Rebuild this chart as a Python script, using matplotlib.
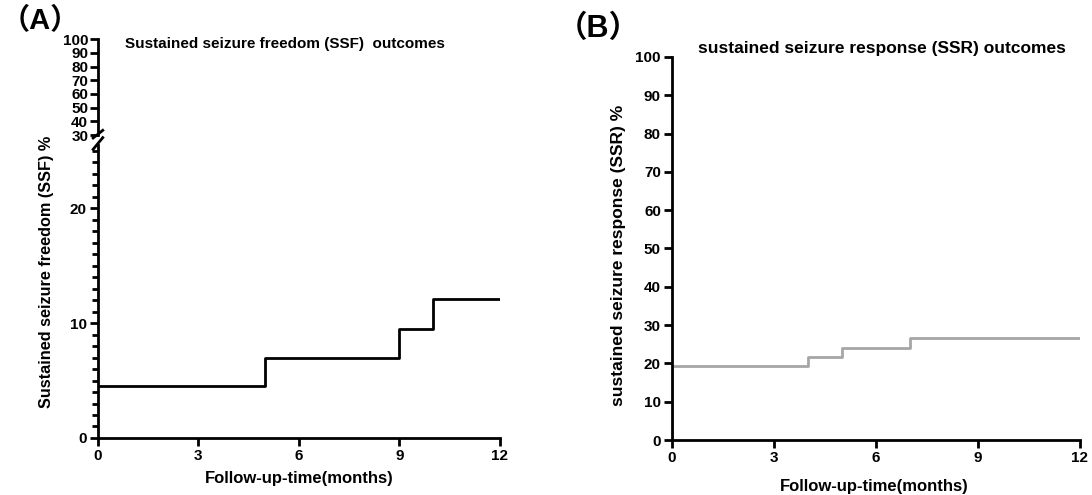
import numpy as np
import matplotlib
matplotlib.use("Agg")
import matplotlib.pyplot as plt

plt.rcParams['font.family'] = ['Liberation Sans', 'Noto Sans CJK SC', 'DejaVu Sans']
plt.rcParams['font.weight'] = 'bold'

# data
months_a = [0, 5, 9, 10, 12]
ssf = [4.5, 7.0, 9.5, 12.1, 12.1]
months_b = [0, 4, 5, 7, 12]
ssr = [19.2, 21.6, 24.0, 26.6, 26.6]
xticks = [0, 3, 6, 9, 12]

fig = plt.figure(figsize=(10.92, 4.95), dpi=100)

def style(ax, size=11):
    for s in ['top', 'right']:
        ax.spines[s].set_visible(False)
    for s in ['left', 'bottom']:
        ax.spines[s].set_linewidth(2)
    ax.tick_params(which='major', length=6, width=2, labelsize=size, pad=2)
    ax.tick_params(which='minor', length=4, width=2)
    for t in ax.get_xticklabels() + ax.get_yticklabels():
        t.set_fontweight('bold')

# ---- panel A, broken y axis
ax_lo = fig.add_axes([0.0897, 0.1152, 0.368, 0.592])
ax_hi = fig.add_axes([0.0897, 0.727, 0.368, 0.194])

ax_lo.step(months_a, ssf, where='post', color='black', lw=2)
ax_lo.set_xlim(0, 12)
ax_lo.set_ylim(0, 25.5)
ax_lo.set_xticks(xticks)
ax_lo.set_yticks([0, 10, 20])
ax_lo.set_yticks(np.arange(0, 26, 1), minor=True)
style(ax_lo)
ax_lo.tick_params(axis='x', which='minor', length=0)

ax_hi.set_xlim(0, 12)
ax_hi.set_ylim(30, 100)
ax_hi.set_yticks(np.arange(30, 101, 10))
ax_hi.set_xticks([])
style(ax_hi)
ax_hi.spines['bottom'].set_visible(False)
ax_hi.tick_params(axis='y', pad=1)

# break marks
kw = dict(color='black', lw=2, clip_on=False)
ax_lo.plot([-0.012, 0.012], [0.985, 1.025], transform=ax_lo.transAxes, **kw)
ax_hi.plot([-0.012, 0.012], [-0.03, 0.05], transform=ax_hi.transAxes, **kw)

fig.text(47 / 1092, (495 - 272) / 495, 'Sustained seizure freedom (SSF) %',
         rotation=90, ha='center', va='center', fontsize=11.7, fontweight='bold')
fig.text(299 / 1092, (495 - 479) / 495, 'Follow-up-time(months)',
         ha='center', va='center', fontsize=12, fontweight='bold')
fig.text(125 / 1092, (495 - 44) / 495, 'Sustained seizure freedom (SSF)  outcomes',
         ha='left', va='center', fontsize=11, fontweight='bold')
fig.text(1 / 1092, (495 - 21) / 495, '（A）', ha='left', va='center',
         fontsize=21, fontweight='bold')

# ---- panel B
ax_b = fig.add_axes([0.6154, 0.111, 0.3736, 0.774])
ax_b.step(months_b, ssr, where='post', color='#a6a6a6', lw=2)
ax_b.plot([0, 0], [0, ssr[0]], color='#a6a6a6', lw=2)
ax_b.set_xlim(0, 12)
ax_b.set_ylim(0, 100)
ax_b.set_xticks(xticks)
ax_b.set_yticks(np.arange(0, 101, 10))
style(ax_b)

fig.text(619 / 1092, (495 - 255) / 495, 'sustained seizure response (SSR) %',
         rotation=90, ha='center', va='center', fontsize=12.5, fontweight='bold')
fig.text(874 / 1092, (495 - 486) / 495, 'Follow-up-time(months)',
         ha='center', va='center', fontsize=12, fontweight='bold')
fig.text(698 / 1092, (495 - 48) / 495, 'sustained seizure response (SSR) outcomes',
         ha='left', va='center', fontsize=12.5, fontweight='bold')
fig.text(557 / 1092, (495 - 29) / 495, '（B）', ha='left', va='center',
         fontsize=22, fontweight='bold')

fig.savefig('out.png', dpi=100)
